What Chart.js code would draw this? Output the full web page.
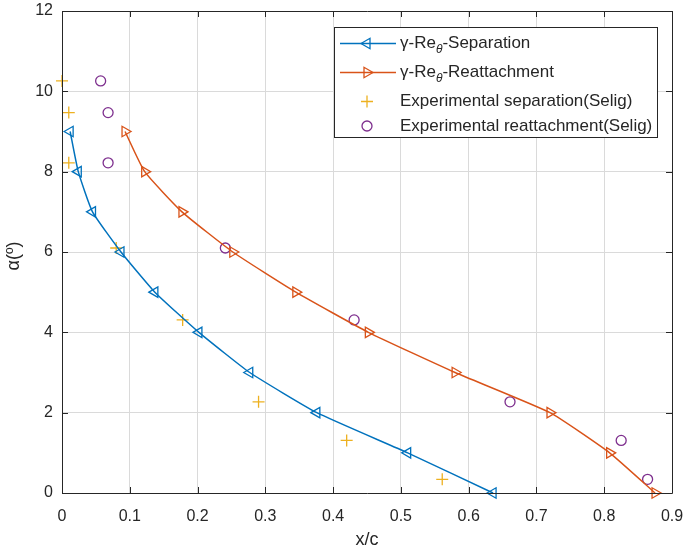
<!DOCTYPE html>
<html>
<head>
<meta charset="utf-8">
<script src="https://cdn.jsdelivr.net/npm/chart.js@4.4.1/dist/chart.umd.min.js"></script>
<style>
  html, body { margin: 0; padding: 0; background: #ffffff; }
  canvas { display: block; }
</style>
</head>
<body>
<canvas id="c" width="687" height="554"></canvas>
<script>
// Angle of attack levels for the simulated transition curves (degrees)
const alphaSim = [9, 8, 7, 6, 5, 4, 3, 2, 1, 0];
// gamma-Re_theta model: laminar separation location (x/c)
const sepX = [0.012, 0.024, 0.045, 0.087, 0.137, 0.202, 0.277, 0.376, 0.510, 0.636];
// gamma-Re_theta model: turbulent reattachment location (x/c)
const reX = [0.093, 0.122, 0.177, 0.252, 0.345, 0.452, 0.580, 0.720, 0.808, 0.875];

// Experimental angles of attack (Selig)
const alphaExp = [10.26, 9.47, 8.22, 6.10, 4.31, 2.27, 1.31, 0.34];
// Experimental separation location (x/c)
const expSepX = [0.000, 0.010, 0.010, 0.080, 0.178, 0.290, 0.420, 0.561];
// Experimental reattachment location (x/c)
const expReX = [0.057, 0.068, 0.068, 0.241, 0.431, 0.661, 0.825, 0.864];

// Axis ticks
const xTicks = [0, 0.1, 0.2, 0.3, 0.4, 0.5, 0.6, 0.7, 0.8, 0.9];
const xTickLabels = ['0', '0.1', '0.2', '0.3', '0.4', '0.5', '0.6', '0.7', '0.8', '0.9'];
const yTicks = [0, 2, 4, 6, 8, 10, 12];
const yTickLabels = ['0', '2', '4', '6', '8', '10', '12'];

// Legend entries
const legendLabels = [
  ['\u03B3-Re', '\u03B8', '-Separation'],
  ['\u03B3-Re', '\u03B8', '-Reattachment'],
  ['Experimental separation(Selig)'],
  ['Experimental reattachment(Selig)']
];

const FONT = '"Liberation Sans", Arial, Helvetica, sans-serif';
const AXIS_COLOR = '#262626';

const pairs = (xs, ys) => xs.map((x, i) => ({ x: x, y: ys[i] }));

// Box outline with inward tick marks on all four sides
const boxPlugin = {
  id: 'boxFrame',
  afterDatasetsDraw(chart) {
    const { ctx, chartArea: a, scales } = chart;
    ctx.save();
    ctx.strokeStyle = AXIS_COLOR;
    ctx.lineWidth = 1;
    ctx.beginPath();
    ctx.rect(Math.round(a.left) + 0.5, Math.round(a.top) + 0.5,
             Math.round(a.right - a.left), Math.round(a.bottom - a.top));
    ctx.stroke();
    const len = 6;
    ctx.beginPath();
    xTicks.forEach(v => {
      const px = Math.round(scales.x.getPixelForValue(v)) + 0.5;
      ctx.moveTo(px, a.bottom); ctx.lineTo(px, a.bottom - len);
      ctx.moveTo(px, a.top); ctx.lineTo(px, a.top + len);
    });
    yTicks.forEach(v => {
      const py = Math.round(scales.y.getPixelForValue(v)) + 0.5;
      ctx.moveTo(a.left, py); ctx.lineTo(a.left + len, py);
      ctx.moveTo(a.right, py); ctx.lineTo(a.right - len, py);
    });
    ctx.stroke();
    ctx.restore();
  },
  afterDraw(chart) {
    const { ctx, chartArea: a } = chart;
    ctx.save();
    ctx.fillStyle = AXIS_COLOR;
    ctx.textAlign = 'center';
    ctx.textBaseline = 'middle';
    ctx.font = '18px ' + FONT;
    ctx.fillText('x/c', (a.left + a.right) / 2, 540);
    ctx.translate(14, (a.top + a.bottom) / 2 + 4);
    ctx.rotate(-Math.PI / 2);
    ctx.fillText('\u03B1(\u00BA)', 0, 0);
    ctx.restore();
  }
};

// Boxed legend in the upper right of the plot area
const legendPlugin = {
  id: 'boxLegend',
  afterDraw(chart) {
    const { ctx } = chart;
    const ds = chart.data.datasets;
    const box = { left: 334, top: 27, right: 657, bottom: 137 };
    const rows = [43.5, 72.5, 101.5, 126];
    ctx.save();
    ctx.fillStyle = '#ffffff';
    ctx.fillRect(box.left, box.top, box.right - box.left, box.bottom - box.top);
    ctx.strokeStyle = AXIS_COLOR;
    ctx.lineWidth = 1;
    ctx.strokeRect(box.left + 0.5, box.top + 0.5, box.right - box.left, box.bottom - box.top);

    ds.forEach((d, i) => {
      const y = rows[i];
      const mx = 367;
      if (d.showLine) {
        ctx.strokeStyle = d.borderColor;
        ctx.lineWidth = d.borderWidth;
        ctx.beginPath();
        ctx.moveTo(340, y); ctx.lineTo(396, y);
        ctx.stroke();
      }
      ctx.strokeStyle = d.pointBorderColor;
      ctx.fillStyle = 'rgba(0,0,0,0)';
      ctx.lineWidth = d.pointBorderWidth;
      Chart.helpers.drawPoint(ctx, {
        pointStyle: d.pointStyle,
        rotation: d.pointRotation || 0,
        radius: d.pointRadius,
        borderWidth: d.pointBorderWidth
      }, mx, y);

      const parts = legendLabels[i];
      ctx.fillStyle = AXIS_COLOR;
      ctx.textAlign = 'left';
      ctx.textBaseline = 'middle';
      let x = 400;
      ctx.font = '17px ' + FONT;
      ctx.fillText(parts[0], x, y);
      x += ctx.measureText(parts[0]).width;
      if (parts.length > 1) {
        ctx.font = 'italic 12px ' + FONT;
        ctx.fillText(parts[1], x, y + 6);
        x += ctx.measureText(parts[1]).width;
        ctx.font = '17px ' + FONT;
        ctx.fillText(parts[2], x, y);
      }
    });
    ctx.restore();
  }
};

new Chart(document.getElementById('c'), {
  type: 'scatter',
  data: {
    datasets: [
      {
        label: 'gamma-Re_theta-Separation',
        data: pairs(sepX, alphaSim),
        showLine: true,
        borderColor: '#0072BD',
        borderWidth: 1.5,
        tension: 0.15,
        pointStyle: 'triangle',
        pointRotation: -90,
        pointRadius: 6,
        pointBorderColor: '#0072BD',
        pointBackgroundColor: 'rgba(0,0,0,0)',
        pointBorderWidth: 1.3,
        clip: false
      },
      {
        label: 'gamma-Re_theta-Reattachment',
        data: pairs(reX, alphaSim),
        showLine: true,
        borderColor: '#D95319',
        borderWidth: 1.5,
        tension: 0.15,
        pointStyle: 'triangle',
        pointRotation: 90,
        pointRadius: 6,
        pointBorderColor: '#D95319',
        pointBackgroundColor: 'rgba(0,0,0,0)',
        pointBorderWidth: 1.3,
        clip: false
      },
      {
        label: 'Experimental separation(Selig)',
        data: pairs(expSepX, alphaExp),
        showLine: false,
        pointStyle: 'cross',
        pointRadius: 6,
        pointBorderColor: '#EDB120',
        pointBackgroundColor: 'rgba(0,0,0,0)',
        pointBorderWidth: 1.3,
        clip: false
      },
      {
        label: 'Experimental reattachment(Selig)',
        data: pairs(expReX, alphaExp),
        showLine: false,
        pointStyle: 'circle',
        pointRadius: 5,
        pointBorderColor: '#7E2F8E',
        pointBackgroundColor: 'rgba(0,0,0,0)',
        pointBorderWidth: 1.3,
        clip: false
      }
    ]
  },
  options: {
    responsive: false,
    animation: false,
    layout: { padding: { left: 0, top: 11, right: 15, bottom: 0 } },
    plugins: { legend: { display: false }, tooltip: { enabled: false } },
    scales: {
      x: {
        type: 'linear',
        min: 0, max: 0.9,
        afterBuildTicks: s => { s.ticks = xTicks.map(v => ({ value: v })); },
        afterFit: s => { s.height = 61; s.paddingLeft = 0; s.paddingRight = 0; },
        ticks: {
          color: AXIS_COLOR,
          font: { family: FONT, size: 16 },
          padding: 14,
          maxRotation: 0,
          autoSkip: false,
          callback: (v, i) => xTickLabels[i]
        },
        grid: { color: '#dadada', lineWidth: 1, drawTicks: false },
        border: { display: false }
      },
      y: {
        type: 'linear',
        min: 0, max: 12,
        afterBuildTicks: s => { s.ticks = yTicks.map(v => ({ value: v })); },
        afterFit: s => { s.width = 62; s.paddingTop = 0; s.paddingBottom = 0; },
        ticks: {
          color: AXIS_COLOR,
          font: { family: FONT, size: 16 },
          padding: 9,
          autoSkip: false,
          callback: (v, i) => yTickLabels[i]
        },
        grid: { color: '#dadada', lineWidth: 1, drawTicks: false },
        border: { display: false }
      }
    }
  },
  plugins: [boxPlugin, legendPlugin]
});
</script>
</body>
</html>
